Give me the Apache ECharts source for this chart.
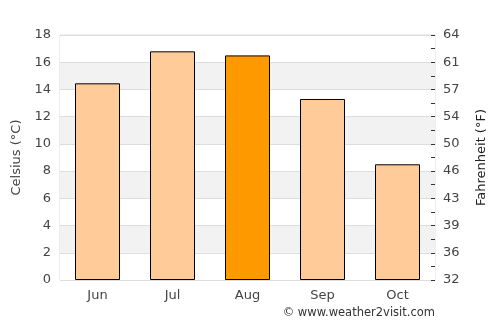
<!DOCTYPE html>
<html><head><meta charset="utf-8">
<script src="https://cdn.jsdelivr.net/npm/echarts@6/dist/echarts.min.js"></script>
<style>html,body{margin:0;padding:0;background:#fff}#c{width:500px;height:325px}</style>
</head><body><div id="c"></div>
<script>
const categories = ['Jun','Jul','Aug','Sep','Oct'];
const celsius = [14.45, 16.8, 16.5, 13.3, 8.5];
const highlightIndex = 2;
const F = 'DejaVu Sans';
const chart = echarts.init(document.getElementById('c'));
chart.setOption({
  animation: false,
  grid: {left: 60, right: 65, top: 35, bottom: 45, show: true, borderColor: '#dddddd', borderWidth: 1},
  xAxis: {
    type: 'category', data: categories,
    axisLine: {show: false}, axisTick: {show: false},
    axisLabel: {color: '#444', fontFamily: F, fontSize: 13, margin: 9}
  },
  yAxis: [{
    type: 'value', min: 0, max: 18, interval: 2, position: 'left',
    name: 'Celsius (°C)', nameLocation: 'middle', nameGap: 35, nameRotate: 90,
    nameTextStyle: {color: '#444', fontFamily: F, fontSize: 13},
    axisLine: {show: false}, axisTick: {show: false},
    axisLabel: {color: '#444', fontFamily: F, fontSize: 13, margin: 9},
    splitLine: {show: true, lineStyle: {color: '#dddddd', width: 1}},
    splitArea: {show: true, areaStyle: {color: ['#ffffff', '#f2f2f2']}}
  }, {
    type: 'value', min: 0, max: 18, interval: 2, position: 'right',
    name: 'Fahrenheit (°F)', nameLocation: 'middle', nameGap: 40, nameRotate: 90,
    nameTextStyle: {color: '#222', fontFamily: F, fontSize: 13},
    axisLine: {show: false},
    axisTick: {show: true, inside: true, length: 4, lineStyle: {color: '#333'}},
    minorTick: {show: true, splitNumber: 2, length: 4, lineStyle: {color: '#333'}},
    axisLabel: {color: '#444', fontFamily: F, fontSize: 13, margin: 8,
      formatter: v => String(Math.round(v * 9 / 5 + 32))},
    splitLine: {show: false}
  }],
  series: [{
    type: 'bar', yAxisIndex: 0, barWidth: '60%',
    data: celsius.map((v, i) => ({value: v, itemStyle: {color: i === highlightIndex ? '#ff9900' : '#ffcc99'}})),
    itemStyle: {borderColor: '#000', borderWidth: 1}
  }],
  graphic: [{
    type: 'text', right: 65, top: 307,
    style: {text: '© www.weather2visit.com', fill: '#333', font: '11.5px "DejaVu Sans"'}
  }]
});
</script></body></html>
